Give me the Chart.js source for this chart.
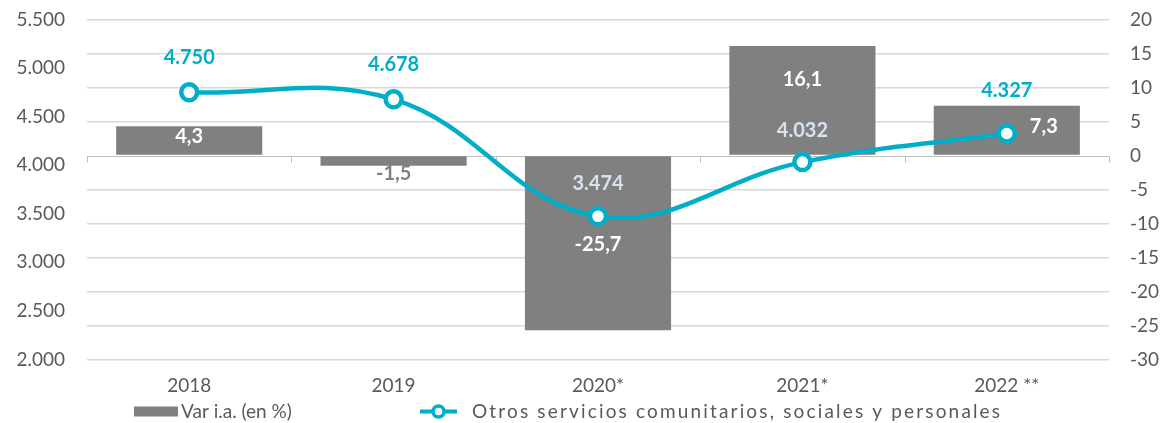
<!DOCTYPE html>
<html>
<head>
<meta charset="utf-8">
<title>Otros servicios comunitarios, sociales y personales</title>
<script src="https://cdn.jsdelivr.net/npm/chart.js@4.4.1/dist/chart.umd.min.js"></script>
<style>
  html, body { margin: 0; padding: 0; background: #ffffff; }
  #wrap { width: 1175px; height: 423px; position: relative; }
</style>
</head>
<body>
<div id="wrap"><canvas id="chart"></canvas></div>
<script>
// ---- data ----
const categories = ['2018', '2019', '2020*', '2021*', '2022 **'];
const varInteranual = [4.3, -1.5, -25.7, 16.1, 7.3];          // Var i.a. (en %), right axis
const otrosServicios = [4750, 4678, 3474, 4032, 4327];        // level, left axis
const leftAxisTicks = [2000, 2500, 3000, 3500, 4000, 4500, 5000, 5500];
const rightAxisTicks = [-30, -25, -20, -15, -10, -5, 0, 5, 10, 15, 20];
const seriesNames = ['Var i.a. (en %)', 'Otros servicios comunitarios, sociales y personales'];

// ---- style ----
const FONT = 'Lato, "Open Sans", sans-serif';
const TEXT = '#595959';
const GRID = '#D9D9D9';
const AXIS = '#BFBFBF';
const BAR = '#808080';
const CYAN = '#00AEC7';
const LIGHT = '#D6E2F0';

// label nudges (px) so labels do not collide with each other
const barLabelShift = [[0, -4], [0, 0], [0, 1], [0, -21], [37, -4]];
const lineLabelLift = [-35, -35, -33, -32, -43];

const fmtThousands = v => String(v).replace(/\B(?=(\d{3})+(?!\d))/g, '.');
const fmtDecimal = v => v.toFixed(1).replace('.', ',');

// keep the value axes from reserving extra room above and below the plot
function fixVerticalAxis(width) {
  return s => { s.width = width; s.paddingTop = 0; s.paddingBottom = 0; };
}

// zero line of the right axis with small category separators
const categoryAxisLine = {
  id: 'categoryAxisLine',
  beforeDatasetsDraw(chart) {
    const { ctx, chartArea, scales } = chart;
    const y0 = Math.round(scales.yR.getPixelForValue(0)) + 0.5;
    const xs = scales.x;
    const edges = [chartArea.left];
    for (let i = 1; i < categories.length; i++) {
      edges.push((xs.getPixelForValue(i - 1) + xs.getPixelForValue(i)) / 2);
    }
    edges.push(chartArea.right);
    ctx.save();
    ctx.strokeStyle = AXIS;
    ctx.lineWidth = 1;
    ctx.beginPath();
    ctx.moveTo(chartArea.left, y0);
    ctx.lineTo(chartArea.right, y0);
    edges.forEach(x => {
      const px = Math.round(x) + 0.5;
      ctx.moveTo(px, y0);
      ctx.lineTo(px, y0 + 6);
    });
    ctx.stroke();
    ctx.restore();
  }
};

// value labels for bars and line points
const valueLabels = {
  id: 'valueLabels',
  afterDatasetsDraw(chart) {
    const ctx = chart.ctx;
    const barMeta = chart.getDatasetMeta(0);
    const lineMeta = chart.getDatasetMeta(1);
    ctx.save();
    ctx.font = 'bold 20px ' + FONT;
    ctx.textAlign = 'center';
    ctx.textBaseline = 'middle';
    const rects = barMeta.data.map(b => b.getProps(['x', 'y', 'base', 'width'], true));
    rects.forEach((r, i) => {
      const top = Math.min(r.y, r.base), bottom = Math.max(r.y, r.base);
      let lx = r.x, ly, color;
      if (bottom - top < 24) {
        ly = bottom + 8;
        color = BAR;
      } else {
        ly = (top + bottom) / 2;
        color = '#ffffff';
      }
      lx += barLabelShift[i][0];
      ly += barLabelShift[i][1];
      ctx.fillStyle = color;
      ctx.fillText(fmtDecimal(varInteranual[i]), lx, ly);
    });
    lineMeta.data.forEach((pt, i) => {
      const lx = pt.x, ly = pt.y + lineLabelLift[i];
      const onBar = rects.some(r => Math.abs(lx - r.x) < r.width / 2 &&
        ly > Math.min(r.y, r.base) && ly < Math.max(r.y, r.base));
      ctx.fillStyle = onBar ? LIGHT : CYAN;
      ctx.fillText(fmtThousands(otrosServicios[i]), lx, ly);
    });
    ctx.restore();
  }
};

// legend row under the category labels
const bottomLegend = {
  id: 'bottomLegend',
  afterDraw(chart) {
    const ctx = chart.ctx;
    const cy = 411.5;
    ctx.save();
    ctx.font = '19px ' + FONT;
    ctx.textBaseline = 'middle';
    ctx.textAlign = 'left';

    // bar swatch
    let x = 134;
    ctx.fillStyle = BAR;
    ctx.fillRect(x, cy - 5, 44, 10);
    ctx.fillStyle = TEXT;
    ctx.fillText(seriesNames[0], x + 47, cy);

    // line swatch with marker
    x = 420;
    ctx.strokeStyle = CYAN;
    ctx.lineWidth = 4;
    ctx.beginPath();
    ctx.moveTo(x, cy);
    ctx.lineTo(x + 37, cy);
    ctx.stroke();
    ctx.beginPath();
    ctx.arc(x + 18.5, cy, 5.5, 0, Math.PI * 2);
    ctx.fillStyle = '#ffffff';
    ctx.fill();
    ctx.lineWidth = 3.5;
    ctx.stroke();

    // second entry is set wider, spread across to x = 1000
    const tx = 472, targetWidth = 528;
    const text = seriesNames[1];
    const natural = ctx.measureText(text).width;
    const extra = (targetWidth - natural) / (text.length - 1);
    ctx.fillStyle = TEXT;
    if ('letterSpacing' in ctx) {
      ctx.letterSpacing = extra.toFixed(2) + 'px';
      ctx.fillText(text, tx, cy);
    } else {
      let cx = tx;
      for (const ch of text) {
        ctx.fillText(ch, cx, cy);
        cx += ctx.measureText(ch).width + extra;
      }
    }
    ctx.restore();
  }
};

new Chart(document.getElementById('chart'), {
  data: {
    labels: categories,
    datasets: [
      {
        type: 'bar',
        label: seriesNames[0],
        data: varInteranual,
        yAxisID: 'yR',
        backgroundColor: BAR,
        borderWidth: 0,
        barPercentage: 0.715,
        categoryPercentage: 1,
        order: 2
      },
      {
        type: 'line',
        label: seriesNames[1],
        data: otrosServicios,
        yAxisID: 'yL',
        borderColor: CYAN,
        borderWidth: 4.5,
        tension: 0.4,
        pointRadius: 8,
        pointBorderWidth: 4.5,
        pointBackgroundColor: '#ffffff',
        pointBorderColor: CYAN,
        order: 1
      }
    ]
  },
  options: {
    responsive: true,
    maintainAspectRatio: false,
    animation: false,
    layout: { padding: { top: 19.5, bottom: 27.5, left: 0, right: 0 } },
    plugins: {
      legend: { display: false },
      tooltip: { enabled: false }
    },
    scales: {
      x: {
        offset: true,
        grid: { display: false, drawTicks: false },
        border: { display: false },
        ticks: { color: TEXT, font: { family: FONT, size: 19 }, padding: 15, maxRotation: 0 },
        afterFit(s) { s.height = 36; }
      },
      yL: {
        position: 'left',
        min: 2000,
        max: 5500,
        afterBuildTicks(s) { s.ticks = leftAxisTicks.map(v => ({ value: v })); },
        grid: { display: false, drawTicks: false },
        border: { display: false },
        ticks: { color: TEXT, font: { family: FONT, size: 19 }, padding: 22, callback: v => fmtThousands(v) },
        afterFit: fixVerticalAxis(87)
      },
      yR: {
        position: 'right',
        min: -30,
        max: 20,
        afterBuildTicks(s) { s.ticks = rightAxisTicks.map(v => ({ value: v })); },
        grid: {
          color: ctx => (ctx.tick && ctx.tick.value === 0 ? 'rgba(0,0,0,0)' : GRID),
          lineWidth: 1.5,
          drawTicks: false
        },
        border: { display: false },
        ticks: { color: TEXT, font: { family: FONT, size: 19 }, padding: 21, callback: v => String(v) },
        afterFit: fixVerticalAxis(66)
      }
    }
  },
  plugins: [categoryAxisLine, valueLabels, bottomLegend]
});
</script>
</body>
</html>
